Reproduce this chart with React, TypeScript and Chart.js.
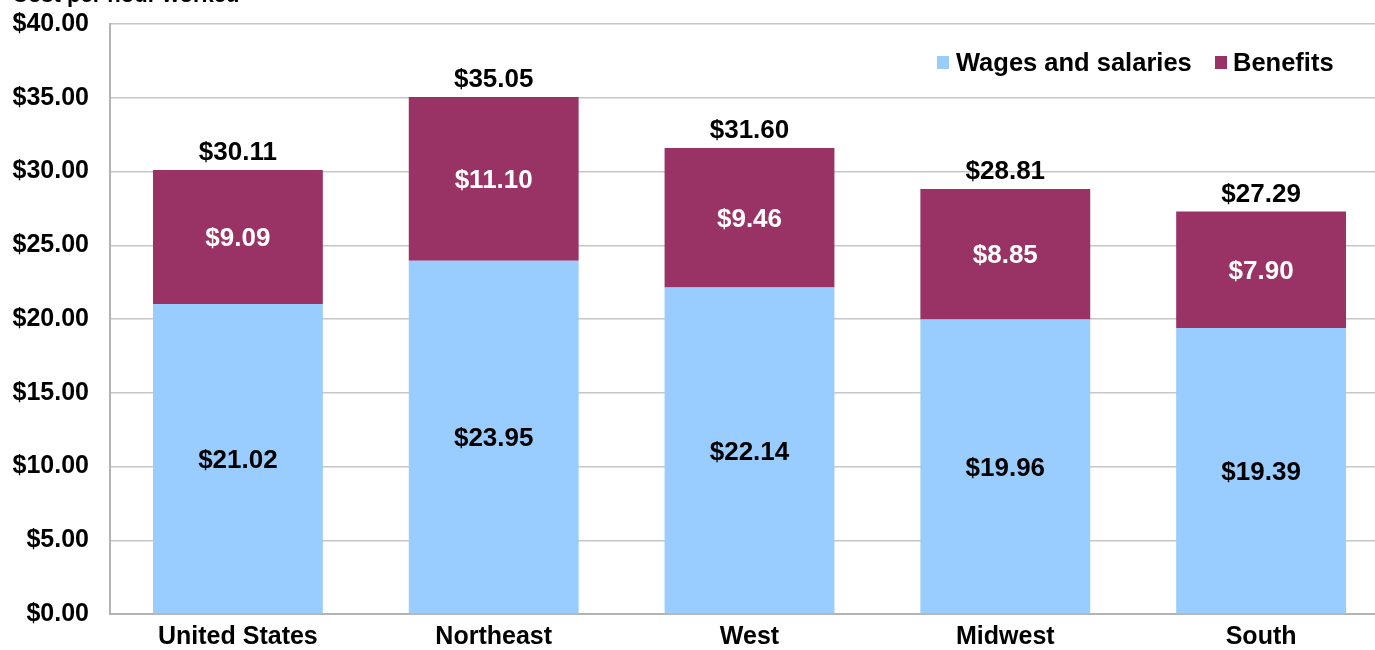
import React, { useEffect, useRef } from "react";
import { Chart, registerables } from "chart.js";

Chart.register(...registerables);

const categories = ["United States", "Northeast", "West", "Midwest", "South"];
const wages = [21.02, 23.95, 22.14, 19.96, 19.39];
const benefits = [9.09, 11.1, 9.46, 8.85, 7.9];
const totals = [30.11, 35.05, 31.6, 28.81, 27.29];
const seriesNames = ["Wages and salaries", "Benefits"];
const yTitle = "Cost per hour worked";

const WAGE_COLOR = "#99CCFF";
const BEN_COLOR = "#993366";
const FONT = "'Liberation Sans', Arial, sans-serif";

const fmt = (v: number) => "$" + v.toFixed(2);

export default function App() {
  const ref = useRef<HTMLCanvasElement | null>(null);

  useEffect(() => {
    if (!ref.current) return;
    const overlay = {
      id: "overlay",
      afterDatasetsDraw(chart: any) {
        const ctx = chart.ctx;
        ctx.save();
        ctx.textAlign = "center";
        ctx.textBaseline = "middle";
        ctx.font = `bold 26px ${FONT}`;
        const m0 = chart.getDatasetMeta(0);
        const m1 = chart.getDatasetMeta(1);
        m0.data.forEach((el: any, i: number) => {
          ctx.fillStyle = "#000000";
          ctx.fillText(fmt(wages[i]), el.x, (el.y + el.base) / 2 + 2);
        });
        m1.data.forEach((el: any, i: number) => {
          ctx.fillStyle = "#FFFFFF";
          ctx.fillText(fmt(benefits[i]), el.x, (el.y + el.base) / 2 + 2);
          ctx.fillStyle = "#000000";
          ctx.fillText(fmt(totals[i]), el.x, el.y - 17);
        });
        // legend
        ctx.textAlign = "left";
        ctx.font = `bold 25.5px ${FONT}`;
        const ly = 84;
        ctx.fillStyle = WAGE_COLOR;
        ctx.fillRect(937, ly - 8, 12, 13);
        ctx.fillStyle = "#000";
        ctx.fillText(seriesNames[0], 956, ly);
        ctx.fillStyle = BEN_COLOR;
        ctx.fillRect(1215, ly - 8, 12, 13);
        ctx.fillStyle = "#000";
        ctx.fillText(seriesNames[1], 1233, ly);
        // cut-off axis title
        ctx.textBaseline = "alphabetic";
        ctx.font = `bold 22px ${FONT}`;
        ctx.fillText(yTitle, 12, 22);
        ctx.restore();
      },
    };

    const chart = new Chart(ref.current, {
      type: "bar",
      data: {
        labels: categories,
        datasets: [
          {
            label: seriesNames[0],
            data: wages,
            backgroundColor: WAGE_COLOR,
            barPercentage: 0.664,
            categoryPercentage: 1,
          },
          {
            label: seriesNames[1],
            data: benefits,
            backgroundColor: BEN_COLOR,
            barPercentage: 0.664,
            categoryPercentage: 1,
          },
        ],
      },
      options: {
        responsive: false,
        animation: false,
        layout: { padding: { top: 44, right: 11, left: 0, bottom: 0 } },
        plugins: { legend: { display: false }, tooltip: { enabled: false } },
        scales: {
          x: {
            stacked: true,
            grid: { display: false, drawTicks: false },
            border: { display: true, color: "#B4B4B4", width: 2 },
            ticks: {
              color: "#000",
              padding: 8,
              font: { family: FONT, size: 25, weight: "bold" },
              maxRotation: 0,
            },
            afterFit(scale: any) {
              scale.height = 32;
            },
          },
          y: {
            stacked: true,
            min: 0,
            max: 40,
            grid: { color: "#C6C6C6", lineWidth: 1.5, drawTicks: false },
            border: { display: true, color: "#B4B4B4", width: 2 },
            ticks: {
              stepSize: 5,
              color: "#000",
              padding: 21,
              font: { family: FONT, size: 25, weight: "bold" },
              callback: (v: any) => fmt(Number(v)),
            },
            afterFit(scale: any) {
              scale.width = 110;
            },
          },
        },
      },
      plugins: [overlay],
    } as any);
    return () => chart.destroy();
  }, []);

  return (
    <div
      style={{
        position: "fixed",
        left: 0,
        top: 0,
        width: 1375,
        height: 650,
        overflow: "hidden",
        background: "#fff",
      }}
    >
      <div style={{ position: "absolute", left: 0, top: -20 }}>
        <canvas ref={ref} width={1400} height={670} />
      </div>
    </div>
  );
}
